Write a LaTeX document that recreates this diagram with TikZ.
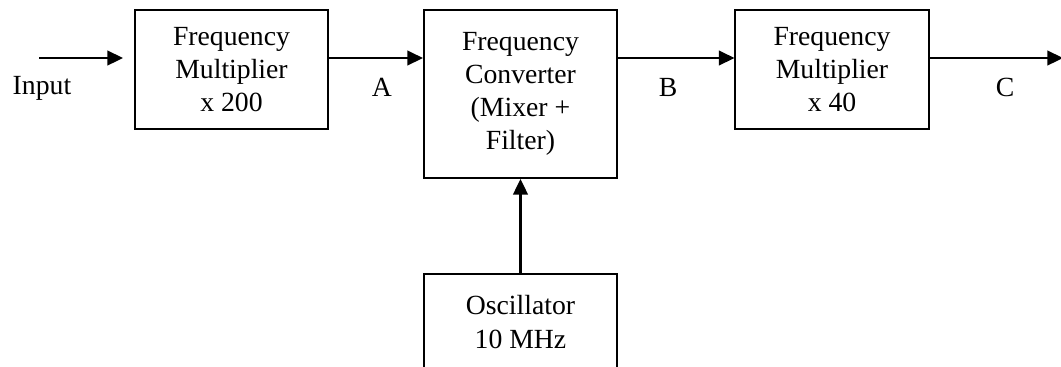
\documentclass[tikz,border=0pt]{standalone}
\usepackage{fontspec}
\setmainfont{Liberation Serif}
\usetikzlibrary{arrows.meta}
\begin{document}
\begin{tikzpicture}[x=0.433pt,y=-0.433pt,line width=0.87pt,
        >={Triangle[length=6.8pt,width=6.4pt]},
        block/.style={draw,align=center,inner sep=0pt,minimum width=83.6pt,
          font=\fontsize{12}{14.3}\selectfont},
        lbl/.style={inner sep=0pt,font=\fontsize{12}{14.3}\selectfont}]
        \useasboundingbox (0,0) rectangle (1061,366);
        \clip (0,0) rectangle (1061,366);
        \node[block,minimum height=51.5pt] (mult1) at (231.5,69.5) {Frequency\\Multiplier\\x 200};
        \node[block,minimum height=72.7pt] (conv) at (520.5,94) {Frequency\\Converter\\(Mixer +\\Filter)};
        \node[block,minimum height=51.5pt] (mult2) at (832,69.5) {Frequency\\Multiplier\\x 40};
        \node[block,minimum height=41.6pt] (osc) at (520.5,322) {Oscillator\\10 MHz};
        \coordinate (in) at (39,58);
        \coordinate (inend) at (123,58);
        \coordinate (out) at (1063,58);
        \node[lbl] (input) at (42,88) {Input};
        \node[lbl] (a) at (382,87) {A};
        \node[lbl] (b) at (668,87) {B};
        \node[lbl] (c) at (1005,87) {C};
        \draw[->] (in) -- (inend);
        \draw[->] (mult1.east |- in) -- (conv.west |- in);
        \draw[->] (conv.east |- in) -- (mult2.west |- in);
        \draw[->] (mult2.east |- in) -- (out);
        \draw[->] (osc) -- (conv);
        \end{tikzpicture}
\end{document}
